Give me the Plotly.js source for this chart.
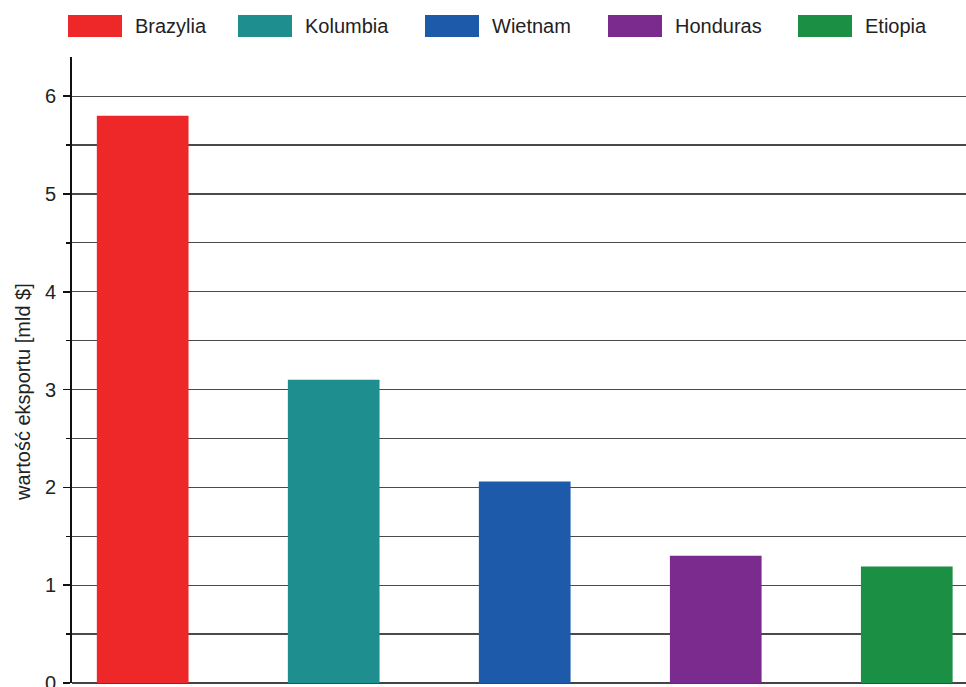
<!DOCTYPE html>
<html>
<head>
<meta charset="utf-8">
<script src="https://cdn.plot.ly/plotly-3.0.1.min.js"></script>
<style>html,body{margin:0;padding:0;background:#fff;}#chart{width:966px;height:687px;}</style>
</head>
<body>
<div id="chart"></div>
<script>
const categories = ['Brazylia', 'Kolumbia', 'Wietnam', 'Honduras', 'Etiopia'];
const exportValues = [5.8, 3.1, 2.06, 1.3, 1.19];
const barColors = ['#ee2828', '#1f8e8e', '#1e5aaa', '#7b2a8d', '#1b9045'];
const yTickValues = [0, 1, 2, 3, 4, 5, 6];
const yTickLabels = ['0', '1', '2', '3', '4', '5', '6'];
const yTitle = 'wartość eksportu [mld $]';

const W = 966, H = 687;
const margin = {l: 72, r: 0, t: 57, b: 4};
const plotW = W - margin.l - margin.r, plotH = H - margin.t - margin.b;
const px2x = p => (p - margin.l) / plotW;
const py2y = p => (H - margin.b - p) / plotH;

// legend layout (pixel positions of swatches)
const legendLeft = [68, 238, 425, 608, 798];
const swW = 54, swTop = 15, swBot = 37;
const shapes = [], annotations = [];
categories.forEach((c, i) => {
  shapes.push({type: 'rect', xref: 'paper', yref: 'paper',
    x0: px2x(legendLeft[i]), x1: px2x(legendLeft[i] + swW),
    y0: py2y(swBot), y1: py2y(swTop),
    fillcolor: barColors[i], line: {width: 0}});
  annotations.push({xref: 'paper', yref: 'paper', x: px2x(legendLeft[i] + swW + 11), y: py2y((swTop + swBot) / 2),
    xanchor: 'left', yanchor: 'middle', showarrow: false, text: c,
    font: {family: 'Liberation Sans, Arial, sans-serif', size: 20, color: '#222'}});
});
// y axis title
annotations.push({xref: 'paper', yref: 'paper', x: px2x(23), y: py2y(392),
  xanchor: 'center', yanchor: 'middle', showarrow: false, textangle: -90, text: yTitle,
  font: {family: 'Liberation Sans, Arial, sans-serif', size: 20, color: '#222'}});

const data = [{
  type: 'bar', x: categories, y: exportValues, width: 0.48,
  marker: {color: barColors, line: {width: 0}},
  showlegend: false, hoverinfo: 'x+y'
}];

const layout = {
  width: W, height: H, margin: margin,
  paper_bgcolor: '#fff', plot_bgcolor: '#fff',
  font: {family: 'Liberation Sans, Arial, sans-serif', size: 20, color: '#222'},
  showlegend: false,
  xaxis: {type: 'category', range: [-0.37, 4.31], showticklabels: false, showgrid: false,
          zeroline: false, showline: false, ticks: ''},
  yaxis: {range: [0, 6.4], tickmode: 'array', tickvals: yTickValues, ticktext: yTickLabels,
          ticks: 'outside', ticklen: 7, tickwidth: 1.5, tickcolor: '#111',
          ticklabelstandoff: 3, ticklabeloverflow: 'allow',
          showline: true, linecolor: '#111', linewidth: 2,
          showgrid: true, gridcolor: '#4a4a4a', gridwidth: 1.2,
          zeroline: true, zerolinecolor: '#444', zerolinewidth: 1.5,
          minor: {dtick: 0.5, tick0: 0, ticks: 'outside', ticklen: 4, tickwidth: 1.5, tickcolor: '#111',
                  showgrid: true, gridcolor: '#4a4a4a', gridwidth: 1.2},
          tickfont: {size: 20, color: '#222'},
          automargin: false},
  shapes: shapes, annotations: annotations
};

Plotly.newPlot('chart', data, layout, {displayModeBar: false, staticPlot: true});
</script>
</body>
</html>
